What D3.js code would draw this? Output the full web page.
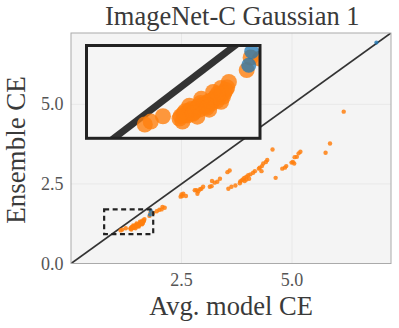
<!DOCTYPE html>
<html><head><meta charset="utf-8">
<script src="https://cdn.jsdelivr.net/npm/d3@7"></script>
<style>body{margin:0;background:#fff}svg{display:block}</style>
</head><body><svg id="c" width="399" height="328"></svg>
<script>
const title = "ImageNet-C Gaussian 1";
const xLabel = "Avg. model CE";
const yLabel = "Ensemble CE";
const xTicks = [2.5, 5.0];
const yTicks = [0.0, 2.5, 5.0];
const axisMax = 7.24;
const zoomX = [0.75, 1.86];
const zoomY = [0.925, 1.70];
// orange series: [avg model CE, ensemble CE]
const orangeX = [1.123,1.161,1.239,1.345,1.370,1.396,1.408,1.434,1.453,1.472,1.491,1.509,1.528,1.547,1.566,1.585,1.604,1.623,1.642,1.661,1.364,1.459,1.535,1.611,1.408,1.484,1.560,1.611,1.775,1.80,
  1.352,1.382,1.420,1.445,1.465,1.500,1.518,1.540,1.555,1.575,1.595,1.615,1.632,1.650,1.380,1.430,1.480,1.520,1.590,
  1.86,1.94,2.00,2.05,2.07,2.12,2.48,2.50,2.52,2.54,2.60,2.80,2.84,2.86,2.88,2.92,2.95,2.99,3.14,3.18,3.19,3.25,3.31,3.37,3.54,3.59,
  3.56,3.63,3.72,3.82,3.83,3.86,3.89,3.92,3.93,3.97,3.97,4.01,4.03,4.06,4.12,4.16,4.25,4.27,4.31,4.32,4.35,4.41,4.44,4.56,4.63,
  4.78,4.84,4.87,4.99,5.02,5.05,5.06,5.11,5.15,5.19,5.76,5.86,6.17];
const orangeY = [1.040,1.065,1.109,1.090,1.131,1.115,1.156,1.139,1.181,1.164,1.205,1.189,1.230,1.214,1.255,1.238,1.288,1.271,1.329,1.395,1.065,1.106,1.164,1.230,1.197,1.255,1.312,1.345,1.495,1.60,
  1.110,1.120,1.170,1.160,1.190,1.200,1.210,1.235,1.240,1.270,1.265,1.300,1.305,1.350,1.150,1.130,1.220,1.180,1.300,
  1.59,1.64,1.69,1.70,1.78,1.75,2.10,2.17,2.12,2.19,2.12,2.30,2.30,2.19,2.27,2.33,2.35,2.41,2.41,2.43,2.59,2.54,2.57,2.66,2.87,2.92,
  2.35,2.41,2.45,2.52,2.58,2.61,2.64,2.69,2.59,2.73,2.64,2.77,2.66,2.80,2.85,2.90,2.98,3.01,2.90,3.06,3.14,3.19,3.25,3.58,2.69,
  2.98,3.01,3.06,3.17,3.19,3.14,3.34,3.35,3.46,3.51,3.48,3.77,4.77];
// blue series
const blueX = [1.788, 1.807, 6.91];
const blueY = [1.535, 1.650, 6.94];

const orange = orangeX.map((x,i)=>[x, orangeY[i]]);
const blue = blueX.map((x,i)=>[x, blueY[i]]);

const svg = d3.select("#c");
const serif = "'Liberation Serif', 'DejaVu Serif', serif";
const L=71, R=391, T=33, B=263.5;
const x = d3.scaleLinear().domain([0, axisMax]).range([L, R]);
const y = d3.scaleLinear().domain([0, axisMax]).range([B, T]);

svg.append("defs").append("clipPath").attr("id","pc").append("rect")
  .attr("x",L).attr("y",T).attr("width",R-L).attr("height",B-T);

svg.append("rect").attr("x",L).attr("y",T).attr("width",R-L).attr("height",B-T).attr("fill","#f4f4f4");
const g = svg.append("g");
g.selectAll(".gx").data(xTicks).join("line").attr("x1",d=>x(d)).attr("x2",d=>x(d)).attr("y1",T).attr("y2",B)
  .attr("stroke","#e8e8e8").attr("stroke-width",1);
g.selectAll(".gy").data(yTicks.filter(d=>d>0)).join("line").attr("y1",d=>y(d)).attr("y2",d=>y(d)).attr("x1",L).attr("x2",R)
  .attr("stroke","#e8e8e8").attr("stroke-width",1);

const main = svg.append("g").attr("clip-path","url(#pc)");
main.append("line").attr("x1",x(0)).attr("y1",y(0)).attr("x2",x(axisMax)).attr("y2",y(axisMax))
  .attr("stroke","#333").attr("stroke-width",1.8);
main.selectAll(".o").data(orange).join("circle").attr("cx",d=>x(d[0])).attr("cy",d=>y(d[1])).attr("r",2.2)
  .attr("fill","#ff7f0e").attr("fill-opacity",0.85);
main.selectAll(".b").data(blue).join("circle").attr("cx",d=>x(d[0])).attr("cy",d=>y(d[1])).attr("r",2.1)
  .attr("fill","#1f77b4").attr("fill-opacity",0.8);

svg.append("rect").attr("x",L).attr("y",T).attr("width",R-L).attr("height",B-T)
  .attr("fill","none").attr("stroke","#aaa").attr("stroke-width",1);

// dashed indicator
svg.append("rect").attr("x",x(zoomX[0])).attr("y",y(zoomY[1]))
  .attr("width",x(zoomX[1])-x(zoomX[0])).attr("height",y(zoomY[0])-y(zoomY[1]))
  .attr("fill","none").attr("stroke","#222").attr("stroke-width",2.2).attr("stroke-dasharray","5,3.5");

// inset
const iL=86.5, iR=260, iT=45.5, iB=138.3;
const xi = d3.scaleLinear().domain(zoomX).range([iL,iR]);
const yi = d3.scaleLinear().domain(zoomY).range([iB,iT]);
svg.select("defs").append("clipPath").attr("id","ic").append("rect")
  .attr("x",iL).attr("y",iT).attr("width",iR-iL).attr("height",iB-iT);
svg.append("rect").attr("x",iL).attr("y",iT).attr("width",iR-iL).attr("height",iB-iT).attr("fill","#f5f5f5");
const ig = svg.append("g").attr("clip-path","url(#ic)");
ig.append("line").attr("x1",xi(0.5)).attr("y1",yi(0.5)).attr("x2",xi(2.2)).attr("y2",yi(2.2))
  .attr("stroke","#333").attr("stroke-width",7);
ig.selectAll(".o").data(orange).join("circle").attr("cx",d=>xi(d[0])).attr("cy",d=>yi(d[1])).attr("r",8)
  .attr("fill","#ff7f0e").attr("fill-opacity",0.8);
ig.selectAll(".b").data(blue).join("circle").attr("cx",d=>xi(d[0])).attr("cy",d=>yi(d[1])).attr("r",7.5)
  .attr("fill","#1f77b4").attr("fill-opacity",0.75);
svg.append("rect").attr("x",iL).attr("y",iT).attr("width",iR-iL).attr("height",iB-iT)
  .attr("fill","none").attr("stroke","#222").attr("stroke-width",3);

// tick labels
svg.selectAll(".xt").data(xTicks).join("text").attr("x",d=>x(d)).attr("y",286)
  .attr("text-anchor","middle").attr("font-family",serif).attr("font-size",18).attr("fill","#555")
  .text(d=>d3.format(".1f")(d));
svg.selectAll(".yt").data(yTicks).join("text").attr("x",63.5).attr("y",d=>y(d)+6)
  .attr("text-anchor","end").attr("font-family",serif).attr("font-size",18).attr("fill","#555")
  .text(d=>d3.format(".1f")(d));

svg.append("text").attr("x",232.3).attr("y",25).attr("text-anchor","middle")
  .attr("font-family",serif).attr("font-size",26.5).attr("fill","#3a3a3a").text(title);
svg.append("text").attr("x",231).attr("y",315).attr("text-anchor","middle")
  .attr("font-family",serif).attr("font-size",26.5).attr("fill","#3a3a3a").text(xLabel);
svg.append("text").attr("transform","translate(25,150) rotate(-90)").attr("text-anchor","middle")
  .attr("font-family",serif).attr("font-size",27).attr("fill","#3a3a3a").text(yLabel);
</script></body></html>
